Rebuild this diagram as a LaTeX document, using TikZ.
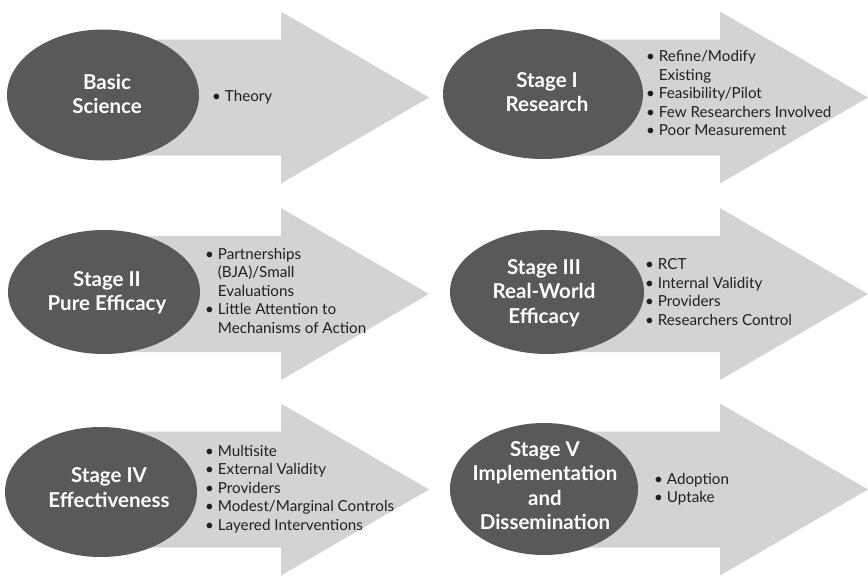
\documentclass[tikz,border=0pt]{standalone}
\usepackage{fontspec}
\setmainfont{Lato}
\usetikzlibrary{shapes.geometric}
\definecolor{ellfill}{HTML}{58595B}
\definecolor{arrfill}{HTML}{D1D3D4}
\definecolor{txtcol}{HTML}{231F20}
\tikzset{
  stageell/.style={ellipse, fill=ellfill, inner sep=0pt, draw=none},
  stagetitle/.style={text=white, font=\bfseries\fontsize{20.5}{24.5}\selectfont, align=center, inner sep=0pt},
  bullets/.style={text=txtcol, font=\fontsize{15.2}{18.5}\selectfont, align=left, anchor=west, inner sep=0pt},
  arrowbody/.style={fill=arrfill, draw=none}
}
\newcommand\stagearrow[2]{%
  \fill[arrowbody] (#1+100,#2-58) -- (#1+281,#2-58) -- (#1+281,#2-86) -- (#1+429,#2)
    -- (#1+281,#2+86) -- (#1+281,#2+58) -- (#1+100,#2+58) -- cycle;}
\newcommand\bl{\textbullet\ }
\newcommand\ind{\hphantom{\textbullet\ }}
\begin{document}
\begin{tikzpicture}[x=1pt,y=-1pt]
\useasboundingbox (0,0) rectangle (868,579);
% Panel 1
\stagearrow{0}{97.5}
\node[stageell, minimum width=192pt, minimum height=131pt] (e1) at (103,95) {};
\node[stagetitle] (t1) at (107,94) {Basic\\Science};
\node[bullets] (b1) at (212,97) {\bl Theory};
% Panel 2
\stagearrow{439}{97.5}
\node[stageell, minimum width=200pt, minimum height=130pt] (e2) at (543,94) {};
\node[stagetitle] (t2) at (547,92) {Stage I\\Research};
\node[bullets] (b2) at (646,93) {\bl Refine/Modify\\\ind Existing\\\bl Feasibility/Pilot\\\bl Few Researchers Involved\\\bl Poor Measurement};
% Panel 3
\stagearrow{0}{294}
\node[stageell, minimum width=192pt, minimum height=124pt] (e3) at (104,292) {};
\node[stagetitle] (t3) at (107,292.5) {Stage II\\Pure Efficacy};
\node[bullets] (b3) at (205,290.5) {\bl Partnerships\\\ind (BJA)/Small\\\ind Evaluations\\\bl Little Attention to\\\ind Mechanisms of Action};
% Panel 4
\stagearrow{439}{294}
\node[stageell, minimum width=194pt, minimum height=124pt] (e4) at (547,292) {};
\node[stagetitle] (t4) at (544,293) {Stage III\\Real-World\\Efficacy};
\node[bullets] (b4) at (645,292) {\bl RCT\\\bl Internal Validity\\\bl Providers\\\bl Researchers Control};
% Panel 5
\stagearrow{0}{489.5}
\node[stageell, minimum width=192pt, minimum height=130pt] (e5) at (101,492) {};
\node[stagetitle] (t5) at (109,487.5) {Stage IV\\Effectiveness};
\node[bullets] (b5) at (205,489) {\bl Multisite\\\bl External Validity\\\bl Providers\\\bl Modest/Marginal Controls\\\bl Layered Interventions};
% Panel 6
\stagearrow{439}{489.5}
\node[stageell, minimum width=188pt, minimum height=132pt] (e6) at (544,489) {};
\node[stagetitle] (t6) at (545,485.5) {Stage V\\Implementation\\and\\Dissemination};
\node[bullets] (b6) at (654,489) {\bl Adoption\\\bl Uptake};
\end{tikzpicture}
\end{document}
